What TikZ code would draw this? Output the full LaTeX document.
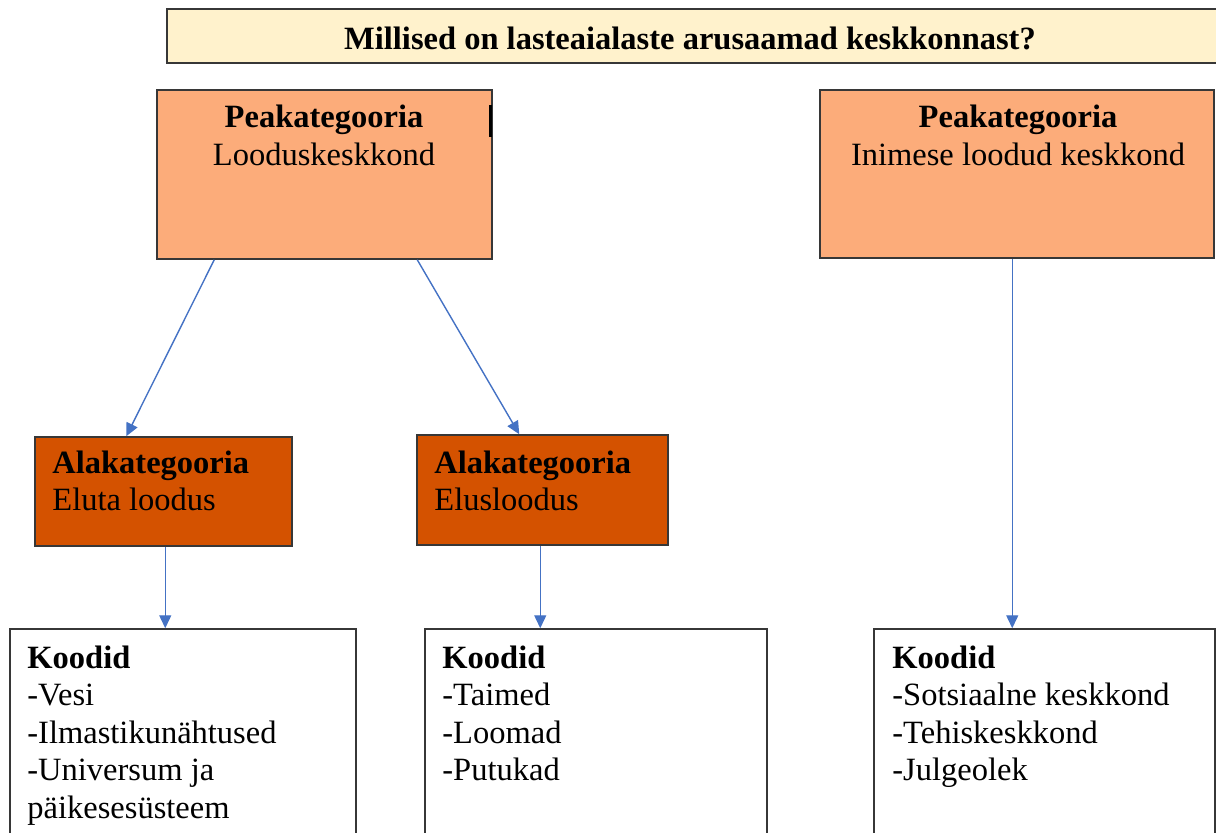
\documentclass[tikz,border=0pt]{standalone}
\usepackage{fontspec}
\setmainfont{Liberation Serif}
\usetikzlibrary{arrows.meta,fit,calc}
\definecolor{titlefill}{RGB}{255,242,204}
\definecolor{peach}{RGB}{252,172,122}
\definecolor{rust}{RGB}{212,82,0}
\definecolor{arrowblue}{RGB}{68,114,196}
\definecolor{edgegray}{RGB}{55,55,55}
\begin{document}
\begin{tikzpicture}[x=0.5pt,y=-0.5pt,
  box/.style={draw=edgegray, line width=0.75pt, inner sep=0pt},
  titlebox/.style={box, fill=titlefill, line width=1.2pt},
  mainbox/.style={box, fill=peach},
  subbox/.style={box, fill=rust},
  codebox/.style={box, fill=white},
  txt/.style={font=\fontsize{16.25}{18.75}\selectfont, inner sep=0pt},
  ml/.style={txt, align=left, anchor=north west},
  arr/.style={draw=arrowblue, line width=0.7pt, -{Triangle[length=6.5pt,width=6pt]}}]
\useasboundingbox (0,0) rectangle (1216,832);
\clip (0,0) rectangle (1216,832);
% title
\node[titlebox, fit={(167,9) (1224,63)}] (title) {};
\node[txt, anchor=base] (titletext) at (690,49) {\textbf{Millised on lasteaialaste arusaamad keskkonnast?}};
% main categories
\node[mainbox, fit={(157,90) (492,259)}] (p1) {};
\node[txt, anchor=base] (p1a) at (324,127) {\textbf{Peakategooria}};
\node[txt, anchor=base] (p1b) at (324,165) {Looduskeskkond};
\draw[line width=1.5pt] (490,105) -- (490,137);
\node[mainbox, fit={(820,90) (1214,258)}] (p2) {};
\node[txt, anchor=base] (p2a) at (1018,127) {\textbf{Peakategooria}};
\node[txt, anchor=base] (p2b) at (1018,165) {Inimese loodud keskkond};
% sub categories
\node[subbox, fit={(35,437) (292,546)}] (a1) {};
\node[ml] (a1t) at (52,449) {\rule{0pt}{12pt}\textbf{Alakategooria}\\Eluta loodus};
\node[subbox, fit={(417,435) (668,545)}] (a2) {};
\node[ml] (a2t) at (434,449) {\rule{0pt}{12pt}\textbf{Alakategooria}\\Elusloodus};
% codes
\node[codebox, fit={(10,629) (356,860)}] (k1) {};
\node[ml] (k1t) at (27,644) {\rule{0pt}{12pt}\textbf{Koodid}\\-Vesi\\-Ilmastikunähtused\\-Universum ja\\päikesesüsteem};
\node[codebox, fit={(425,629) (767,860)}] (k2) {};
\node[ml] (k2t) at (442,644) {\rule{0pt}{12pt}\textbf{Koodid}\\-Taimed\\-Loomad\\-Putukad};
\node[codebox, fit={(874,629) (1215,860)}] (k3) {};
\node[ml] (k3t) at (892,644) {\rule{0pt}{12pt}\textbf{Koodid}\\-Sotsiaalne keskkond\\-Tehiskeskkond\\-Julgeolek};
% connectors
\draw[arr] ([xshift=29pt]p1.south west) -- ([xshift=46pt]a1.north west);
\draw[arr] ([xshift=130.5pt]p1.south west) -- ([xshift=51.5pt]a2.north west);
\draw[arr] ([xshift=65.5pt]a1.south west) -- ([xshift=78pt]k1.north west);
\draw[arr] ([xshift=62pt]a2.south west) -- ([xshift=58pt]k2.north west);
\draw[arr] ([xshift=96.5pt]p2.south west) -- ([xshift=69.5pt]k3.north west);
\end{tikzpicture}
\end{document}
